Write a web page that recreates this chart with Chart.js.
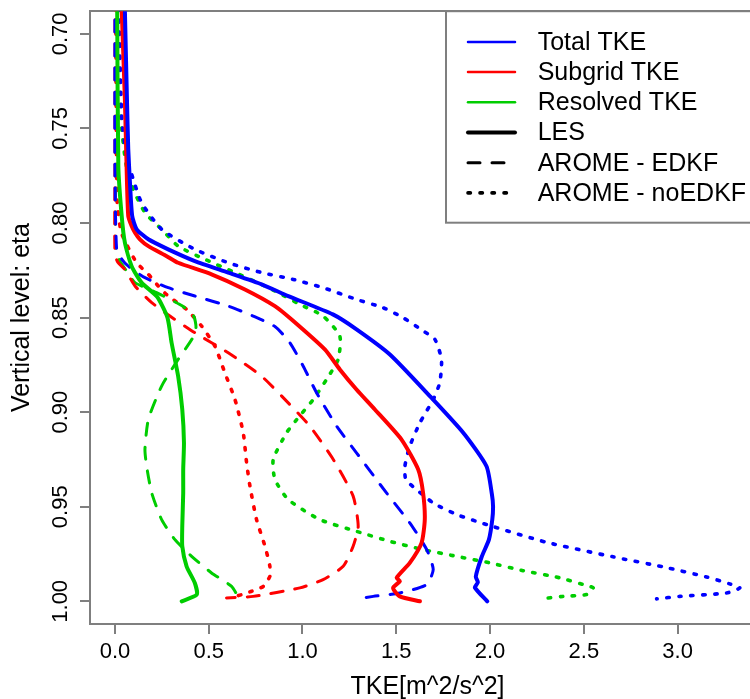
<!DOCTYPE html>
<html><head><meta charset="utf-8">
<script src="https://cdn.jsdelivr.net/npm/chart.js@4/dist/chart.umd.min.js"></script>
<style>
html,body{margin:0;padding:0;background:#fff;overflow:hidden;}
#wrap{width:750px;height:699px;overflow:hidden;position:relative;background:#fff;}
canvas{display:block;}
</style></head><body>
<div id="wrap"><canvas id="c" width="800" height="699"></canvas></div>
<script>
// ---------- axis settings / labels ----------
const xTicks = [0, 0.5, 1.0, 1.5, 2.0, 2.5, 3.0];
const xTickLabels = ['0.0', '0.5', '1.0', '1.5', '2.0', '2.5', '3.0'];
const yTicks = [0.70, 0.75, 0.80, 0.85, 0.90, 0.95, 1.00];
const yTickLabels = ['0.70', '0.75', '0.80', '0.85', '0.90', '0.95', '1.00'];
const xTitle = 'TKE[m^2/s^2]';
const yTitle = 'Vertical level: eta';
const legendLabels = ['Total TKE', 'Subgrid TKE', 'Resolved TKE', 'LES', 'AROME - EDKF', 'AROME - noEDKF'];

// ---------- LES (solid) ----------
const lesTotalEta = [0.68,0.6875,0.7346,0.761,0.7785,0.7963,0.8033,0.8086,0.8139,0.8201,0.8262,0.8324,0.8386,0.8483,0.8562,0.8695,0.8915,0.9109,0.9286,0.9435,0.9497,0.9568,0.9674,0.9763,0.987,0.990,0.9927,1.000];
const lesTotalTke = [0.052,0.053,0.064,0.071,0.080,0.092,0.116,0.178,0.284,0.426,0.604,0.782,0.924,1.162,1.288,1.466,1.679,1.857,1.981,2.010,2.016,2.012,1.994,1.956,1.924,1.935,1.919,1.985];

const lesSubEta = [0.68,0.6869,0.7346,0.7698,0.7963,0.8016,0.8051,0.8086,0.8122,0.8175,0.821,0.8271,0.8351,0.8439,0.851,0.8668,0.8774,0.888,0.8986,0.9145,0.9303,0.9427,0.9568,0.9691,0.9797,0.9876,0.9894,0.9929,0.9974,1.000];
const lesSubTke = [0.035,0.036,0.053,0.062,0.071,0.089,0.107,0.133,0.178,0.276,0.337,0.515,0.693,0.853,0.942,1.119,1.199,1.288,1.386,1.528,1.617,1.643,1.652,1.635,1.572,1.502,1.519,1.483,1.519,1.626];

const lesResEta = [0.68,0.6869,0.7698,0.7963,0.8104,0.8228,0.8315,0.8390,0.8500,0.8633,0.881,0.8986,0.9162,0.9303,0.9427,0.9603,0.9709,0.9815,0.9903,0.9965,1.000];
const lesResTke = [0.012,0.012,0.018,0.036,0.053,0.089,0.142,0.225,0.280,0.302,0.337,0.359,0.368,0.364,0.364,0.359,0.359,0.382,0.426,0.436,0.356];

// ---------- AROME - EDKF (dashed) ----------
const edkfTotalEta = [0.68,0.7698,0.8139,0.8192,0.8228,0.8289,0.8342,0.8386,0.8439,0.8492,0.8547,0.8633,0.8757,0.8897,0.9074,0.9215,0.9427,0.9585,0.9726,0.9832,0.9912,0.9956,0.9974,0.9987];
const edkfTotalTke = [0.0,0.0,0.009,0.037,0.071,0.160,0.284,0.426,0.604,0.737,0.853,0.933,1.004,1.075,1.182,1.288,1.448,1.572,1.662,1.697,1.662,1.519,1.377,1.288];

const edkfSubEta = [0.68,0.7698,0.8166,0.8208,0.8245,0.8333,0.8421,0.8492,0.858,0.8686,0.881,0.8951,0.9074,0.925,0.9444,0.9603,0.9709,0.9815,0.9885,0.9929,0.9974,0.9982];
const edkfSubTke = [0.0,0.0,0.0,0.016,0.053,0.107,0.196,0.293,0.426,0.604,0.782,0.924,1.039,1.164,1.270,1.297,1.270,1.217,1.110,0.986,0.737,0.595];

const edkfResEta = [0.68,0.7698,0.8139,0.8203,0.8256,0.8315,0.8368,0.8439,0.8492,0.8552,0.8615,0.8721,0.8862,0.9039,0.9197,0.9286,0.9427,0.9568,0.9674,0.9762,0.985,0.9921,0.9977];
const edkfResTke = [0.004,0.004,0.004,0.027,0.064,0.107,0.222,0.360,0.420,0.432,0.410,0.337,0.249,0.178,0.160,0.169,0.196,0.249,0.320,0.409,0.515,0.622,0.657];

// ---------- AROME - noEDKF (dotted) ----------
const noTotalEta = [0.68,0.6875,0.745,0.7663,0.7742,0.7892,0.8033,0.8139,0.821,0.8262,0.8298,0.8342,0.8404,0.8448,0.8501,0.8571,0.8615,0.8721,0.8844,0.8933,0.9056,0.918,0.9286,0.9356,0.9409,0.948,0.9541,0.9594,0.9688,0.9765,0.9818,0.9871,0.9908,0.9929,0.9956,0.9974,0.9987];
const noTotalTke = [0.021,0.021,0.037,0.064,0.089,0.142,0.249,0.426,0.604,0.782,0.950,1.110,1.288,1.430,1.537,1.644,1.706,1.741,1.732,1.697,1.626,1.572,1.546,1.551,1.608,1.697,1.821,1.981,2.301,2.656,2.923,3.154,3.278,3.332,3.261,3.012,2.888];

const noSubEta = [0.68,0.6869,0.7875,0.8044,0.8113,0.821,0.8271,0.8333,0.8386,0.8457,0.8545,0.8651,0.8792,0.8933,0.9109,0.9268,0.9392,0.9568,0.9709,0.9815,0.9868,0.9921,0.9947,0.9965,0.9982];
const noSubTke = [0.005,0.005,0.011,0.032,0.062,0.116,0.178,0.231,0.284,0.382,0.462,0.533,0.586,0.640,0.684,0.702,0.720,0.755,0.800,0.826,0.826,0.791,0.729,0.675,0.613];

const noResEta = [0.68,0.6869,0.7452,0.7689,0.7822,0.7945,0.8033,0.8122,0.8192,0.8262,0.8333,0.8368,0.843,0.8492,0.8598,0.8721,0.8827,0.8933,0.9039,0.9109,0.925,0.9356,0.9462,0.9568,0.963,0.9683,0.9727,0.9762,0.9797,0.9838,0.9876,0.9911,0.9929,0.9964,0.9974,0.9987];
const noResTke = [0.016,0.016,0.032,0.059,0.098,0.160,0.249,0.337,0.480,0.640,0.800,0.870,0.986,1.110,1.199,1.190,1.128,1.057,0.969,0.915,0.844,0.853,0.924,1.093,1.288,1.466,1.643,1.821,1.999,2.176,2.372,2.496,2.550,2.514,2.390,2.265];

// ---------- chart ----------
const xMin = -0.133, xMax = 3.466;
const yMin = 0.688, yMax = 1.012;
const BLUE = '#0000FF', RED = '#FF0000', GREEN = '#00CD00', AXIS = '#7f7f7f';
const FONT = "'Liberation Sans', Arial, Helvetica, sans-serif";

const styles = {
  solid:  { borderWidth: 4, borderDash: [] },
  dashed: { borderWidth: 3, borderDash: [12, 12] },
  dotted: { borderWidth: 3.6, borderDash: [2.4, 9.6] }
};
function series(label, eta, tke, color, style) {
  return Object.assign({
    label: label,
    data: tke.map((v, i) => ({ x: v, y: eta[i] })),
    borderColor: color, backgroundColor: color,
    showLine: true, pointRadius: 0, pointHoverRadius: 0,
    tension: 0.2, borderCapStyle: 'round', borderJoinStyle: 'round',
    fill: false, clip: 0
  }, styles[style]);
}
const datasets = [
  series('LES Total', lesTotalEta, lesTotalTke, BLUE, 'solid'),
  series('LES Subgrid', lesSubEta, lesSubTke, RED, 'solid'),
  series('LES Resolved', lesResEta, lesResTke, GREEN, 'solid'),
  series('EDKF Total', edkfTotalEta, edkfTotalTke, BLUE, 'dashed'),
  series('EDKF Subgrid', edkfSubEta, edkfSubTke, RED, 'dashed'),
  series('EDKF Resolved', edkfResEta, edkfResTke, GREEN, 'dashed'),
  series('noEDKF Total', noTotalEta, noTotalTke, BLUE, 'dotted'),
  series('noEDKF Subgrid', noSubEta, noSubTke, RED, 'dotted'),
  series('noEDKF Resolved', noResEta, noResTke, GREEN, 'dotted')
];

const legendStyles = [
  { color: BLUE, width: 2.5, dash: [] },
  { color: RED, width: 2.5, dash: [] },
  { color: GREEN, width: 2.5, dash: [] },
  { color: '#000', width: 4, dash: [] },
  { color: '#000', width: 3, dash: [12, 12] },
  { color: '#000', width: 3.6, dash: [2.4, 9.6] }
];
const boxLegend = {
  id: 'boxLegend',
  afterDraw(chart) {
    const ctx = chart.ctx, a = chart.chartArea;
    const L = 446, T = a.top, R = a.right, B = 222.7;
    ctx.save();
    ctx.fillStyle = '#fff';
    ctx.fillRect(L, T, R - L, B - T);
    ctx.strokeStyle = AXIS; ctx.lineWidth = 2;
    ctx.strokeRect(L, T, R - L, B - T);
    ctx.font = '25px ' + FONT;
    ctx.textBaseline = 'middle';
    ctx.textAlign = 'left';
    legendLabels.forEach((txt, i) => {
      const y = T + 30.7 + i * 30.2;
      const st = legendStyles[i];
      ctx.beginPath();
      ctx.strokeStyle = st.color; ctx.lineWidth = st.width;
      ctx.lineCap = 'round'; ctx.setLineDash(st.dash);
      ctx.moveTo(L + 22, y); ctx.lineTo(L + 69, y);
      ctx.stroke();
      ctx.setLineDash([]);
      ctx.fillStyle = '#000';
      ctx.fillText(txt, L + 91.7, y + 1);
    });
    ctx.restore();
  }
};

new Chart(document.getElementById('c'), {
  type: 'scatter',
  data: { datasets: datasets },
  plugins: [boxLegend],
  options: {
    responsive: false, animation: false, devicePixelRatio: 1,
    layout: { padding: 0 },
    plugins: { legend: { display: false }, tooltip: { enabled: false } },
    scales: {
      x: {
        type: 'linear', position: 'bottom', min: xMin, max: xMax,
        afterBuildTicks: s => { s.ticks = xTicks.map(v => ({ value: v })); },
        afterFit: s => { s.height = 75; },
        ticks: { callback: (v, i) => xTickLabels[i], font: { family: FONT, size: 22 }, color: '#000', padding: 5, minRotation: 0, maxRotation: 0, autoSkip: false },
        grid: { display: true, drawOnChartArea: false, drawTicks: true, tickLength: 10, color: AXIS, lineWidth: 2 },
        border: { display: true, color: AXIS, width: 2 },
        title: { display: true, text: xTitle, font: { family: FONT, size: 25, lineHeight: 1 }, color: '#000', padding: { top: 0, bottom: -1 } }
      },
      y: {
        type: 'linear', position: 'left', reverse: true, min: yMin, max: yMax,
        afterBuildTicks: s => { s.ticks = yTicks.map(v => ({ value: v })); },
        afterFit: s => { s.width = 90; },
        ticks: { callback: (v, i) => yTickLabels[i], font: { family: FONT, size: 22 }, color: '#000', padding: -2, minRotation: 90, maxRotation: 90, crossAlign: 'center', autoSkip: false },
        grid: { display: true, drawOnChartArea: false, drawTicks: true, tickLength: 10, color: AXIS, lineWidth: 2 },
        border: { display: true, color: AXIS, width: 2 },
        title: { display: true, text: yTitle, font: { family: FONT, size: 25, lineHeight: 1 }, color: '#000', padding: { top: 10, bottom: 0 } }
      },
      x2: {
        type: 'linear', axis: 'x', position: 'top', min: xMin, max: xMax,
        afterFit: s => { s.height = 11; },
        ticks: { display: false }, grid: { display: false },
        border: { display: true, color: AXIS, width: 2 }
      },
      y2: {
        type: 'linear', axis: 'y', position: 'right', reverse: true, min: yMin, max: yMax,
        afterFit: s => { s.width = 35; },
        ticks: { display: false }, grid: { display: false },
        border: { display: true, color: AXIS, width: 2 }
      }
    }
  }
});
</script></body></html>
